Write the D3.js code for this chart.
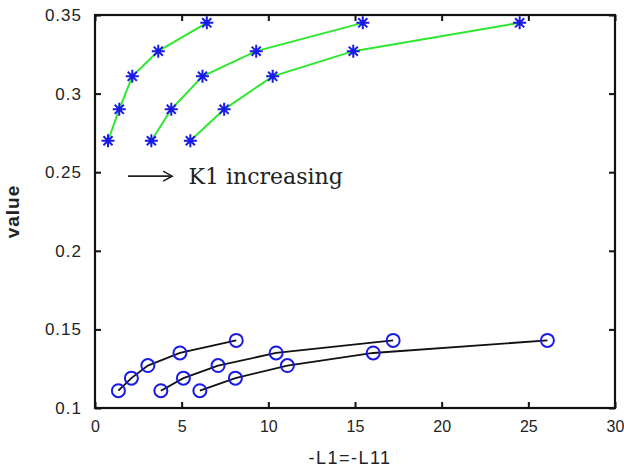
<!DOCTYPE html>
<html>
<head>
<meta charset="utf-8">
<script src="https://cdn.jsdelivr.net/npm/d3@7"></script>
<style>
  body { margin: 0; background: #fff; }
  .tick text { font-family: "Liberation Sans", Arial, sans-serif; font-size: 17px; fill: #222; }
  .yleft .tick text { letter-spacing: 1px; }
  .xbottom .tick text { font-size: 16px; }
</style>
</head>
<body>
<div id="chart"></div>
<script>
// star series (green lines), same y levels for all three curves
const starY = [0.27, 0.29, 0.311, 0.327, 0.345];
const starX1 = [0.75, 1.4, 2.15, 3.65, 6.45];
const starX2 = [3.25, 4.4, 6.2, 9.3, 15.45];
const starX3 = [5.5, 7.45, 10.25, 14.9, 24.5];

// circle series (black lines)
const circY = [0.111, 0.119, 0.127, 0.135, 0.143];
const circX1 = [1.35, 2.1, 3.05, 4.9, 8.15];
const circX2 = [3.8, 5.1, 7.1, 10.45, 17.2];
const circX3 = [6.05, 8.1, 11.1, 16.05, 26.1];

const xTicks = [0, 5, 10, 15, 20, 25, 30];
const yTicks = [0.1, 0.15, 0.2, 0.25, 0.3, 0.35];

const W = 624, H = 474;
const margin = { top: 15, right: 9, bottom: 66, left: 95 };
const width = W - margin.left - margin.right;
const height = H - margin.top - margin.bottom;

const svg = d3.select('#chart').append('svg')
  .attr('width', W)
  .attr('height', H);

const g = svg.append('g')
  .attr('transform', 'translate(' + margin.left + ',' + margin.top + ')');

const x = d3.scaleLinear().domain([0, 30]).range([0, width]);
const y = d3.scaleLinear().domain([0.1, 0.35]).range([height, 0]);

// axes with inward ticks on all four sides
g.append('g')
  .attr('class', 'xbottom')
  .attr('transform', 'translate(0,' + height + ')')
  .call(d3.axisBottom(x).tickValues(xTicks).tickSizeInner(-6).tickSizeOuter(0).tickPadding(13))
  .call(a => a.select('.domain').remove());
g.append('g')
  .call(d3.axisTop(x).tickValues(xTicks).tickSizeInner(-6).tickSizeOuter(0).tickFormat(''))
  .call(a => a.select('.domain').remove());
g.append('g')
  .attr('class', 'yleft')
  .call(d3.axisLeft(y).tickValues(yTicks).tickSizeInner(-6).tickSizeOuter(0).tickPadding(13).tickFormat(d => String(+d.toFixed(2))))
  .call(a => a.select('.domain').remove());
g.append('g')
  .attr('transform', 'translate(' + width + ',0)')
  .call(d3.axisRight(y).tickValues(yTicks).tickSizeInner(-6).tickSizeOuter(0).tickFormat(''))
  .call(a => a.select('.domain').remove());

g.selectAll('.tick line').attr('stroke', '#111').attr('stroke-width', 2);

g.append('rect')
  .attr('width', width)
  .attr('height', height)
  .attr('fill', 'none')
  .attr('stroke', '#111')
  .attr('stroke-width', 2.2);

const line = d3.line()
  .x(d => x(d[0]))
  .y(d => y(d[1]));

const starSets = [starX1, starX2, starX3].map(xs => xs.map((v, i) => [v, starY[i]]));
const circSets = [circX1, circX2, circX3].map(xs => xs.map((v, i) => [v, circY[i]]));

starSets.forEach(pts => {
  g.append('path')
    .attr('d', line(pts))
    .attr('fill', 'none')
    .attr('stroke', '#2ee82e')
    .attr('stroke-width', 2);
});
circSets.forEach(pts => {
  g.append('path')
    .attr('d', line(pts))
    .attr('fill', 'none')
    .attr('stroke', '#111')
    .attr('stroke-width', 1.8);
});

// asterisk markers
const s = 6.5;
const starPath = 'M' + (-s) + ',0L' + s + ',0M0,' + (-s) + 'L0,' + s +
  'M' + (-s * 0.7) + ',' + (-s * 0.7) + 'L' + (s * 0.7) + ',' + (s * 0.7) +
  'M' + (-s * 0.7) + ',' + (s * 0.7) + 'L' + (s * 0.7) + ',' + (-s * 0.7);

g.selectAll('.star')
  .data(starSets.flat())
  .enter().append('path')
    .attr('class', 'star')
    .attr('transform', d => 'translate(' + x(d[0]) + ',' + y(d[1]) + ')')
    .attr('d', starPath)
    .attr('stroke', '#1a1ae6')
    .attr('stroke-width', 2);

g.selectAll('.circ')
  .data(circSets.flat())
  .enter().append('circle')
    .attr('class', 'circ')
    .attr('cx', d => x(d[0]))
    .attr('cy', d => y(d[1]))
    .attr('r', 6.5)
    .attr('fill', 'none')
    .attr('stroke', '#1a1ae6')
    .attr('stroke-width', 2);

// annotation
const ay = y(0.2475);
const ax0 = x(1.9), ax1 = x(4.45);
const ann = g.append('g');
ann.append('line')
  .attr('x1', ax0).attr('x2', ax1)
  .attr('y1', ay).attr('y2', ay)
  .attr('stroke', '#222').attr('stroke-width', 1.6);
ann.append('path')
  .attr('d', 'M' + (ax1 - 9) + ',' + (ay - 5) + 'L' + ax1 + ',' + ay + 'L' + (ax1 - 9) + ',' + (ay + 5))
  .attr('fill', 'none').attr('stroke', '#222').attr('stroke-width', 1.6);
ann.append('text')
  .attr('x', x(5.4))
  .attr('y', ay + 8)
  .attr('font-family', '"DejaVu Serif", "Liberation Serif", serif')
  .attr('font-size', 22)
  .attr('fill', '#222')
  .text('K1 increasing');

// axis titles
svg.append('text')
  .attr('x', margin.left + width / 2 - 5)
  .attr('y', H - 10)
  .attr('text-anchor', 'middle')
  .attr('font-family', '"Liberation Sans", Arial, sans-serif')
  .attr('font-size', 18)
  .attr('letter-spacing', 1.5)
  .attr('fill', '#222')
  .text('-L1=-L11');

svg.append('text')
  .attr('transform', 'translate(19,' + (margin.top + height / 2) + ') rotate(-90)')
  .attr('text-anchor', 'middle')
  .attr('font-family', '"Liberation Sans", Arial, sans-serif')
  .attr('font-size', 19)
  .attr('font-weight', 'bold')
  .attr('letter-spacing', 1)
  .attr('fill', '#222')
  .text('value');
</script>
</body>
</html>
